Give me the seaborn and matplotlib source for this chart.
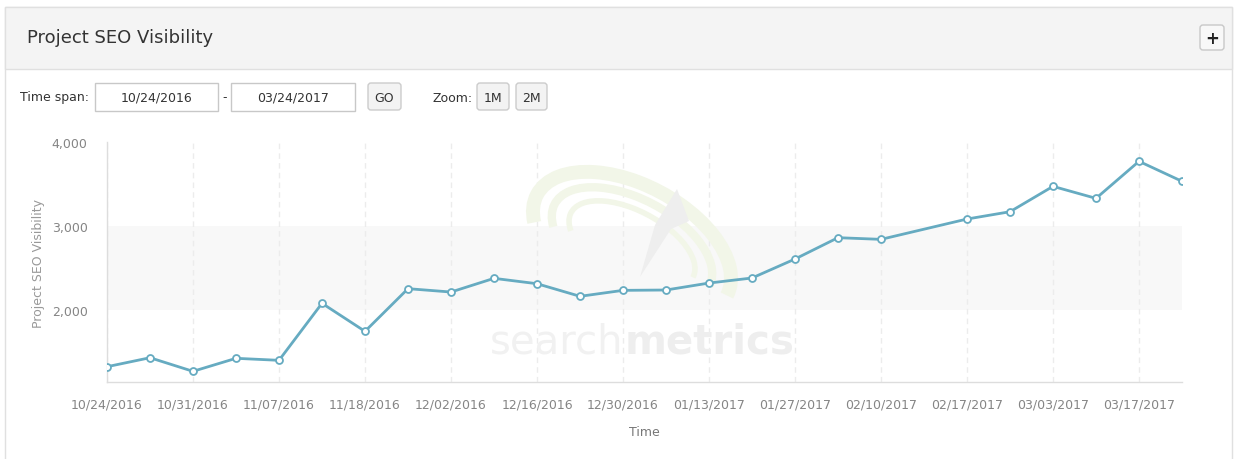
import numpy as np
import pandas as pd
import matplotlib
matplotlib.use('Agg')
import matplotlib.pyplot as plt
import matplotlib.transforms as mtransforms
from matplotlib.patches import FancyBboxPatch, Rectangle, Arc, Polygon
from matplotlib.ticker import FuncFormatter
import seaborn as sns

slot = [0, 1, 2, 3, 4, 5, 6, 7, 8, 9, 10, 11, 12, 13, 14, 15, 16, 17, 18,
        20, 21, 22, 23, 24, 25]
visibility = [1325, 1432, 1270, 1425, 1401, 2080, 1746, 2254, 2214, 2377,
              2313, 2163, 2234, 2238, 2321, 2381, 2607, 2861, 2841, 3083,
              3170, 3472, 3329, 3770, 3532]
tick_slots = [0, 2, 4, 6, 8, 10, 12, 14, 16, 18, 20, 22, 24]
tick_labels = ['10/24/2016', '10/31/2016', '11/07/2016', '11/18/2016',
               '12/02/2016', '12/16/2016', '12/30/2016', '01/13/2017',
               '01/27/2017', '02/10/2017', '02/17/2017', '03/03/2017',
               '03/17/2017']
y_ticks = [2000, 3000, 4000]
band = (2000, 3000)

df = pd.DataFrame({'slot': slot, 'visibility': visibility})

sns.set_style('white')
plt.rcParams['font.family'] = ['DejaVu Sans']

W, H = 1234, 460
fig = plt.figure(figsize=(W / 100, H / 100), dpi=100)
fig.patch.set_facecolor('white')

# pixel transform: (x, y) measured from the top-left corner of the image
px = mtransforms.Affine2D().scale(1, -1).translate(0, H).scale(1 / W, 1 / H) + fig.transFigure

# widget frame and header (kept below the axes)
fig.patches.append(Rectangle((5, 8), 1227, 470, transform=px, facecolor='white',
                             edgecolor='#e0e0e0', linewidth=1, zorder=-10))
fig.patches.append(Rectangle((5, 8), 1227, 62, transform=px, facecolor='#f4f4f4',
                             edgecolor='#e0e0e0', linewidth=1, zorder=-9))
fig.text(27 / W, 1 - 38 / H, 'Project SEO Visibility', fontsize=13, color='#333333',
         va='center', ha='left')
fig.patches.append(FancyBboxPatch((1200, 26), 24, 25, transform=px,
                                  boxstyle='round,pad=0,rounding_size=3',
                                  facecolor='#f8f8f8', edgecolor='#c8c8c8', linewidth=1,
                                  zorder=-8))
fig.text(1212 / W, 1 - 38.5 / H, '+', fontsize=12, fontweight='bold', color='#222222',
         ha='center', va='center')

# time span controls
fig.text(20 / W, 1 - 98 / H, 'Time span:', fontsize=9, color='#333333', va='center')
for x0, x1, txt in [(95, 218, '10/24/2016'), (231, 355, '03/24/2017')]:
    fig.patches.append(Rectangle((x0, 84), x1 - x0, 28, transform=px, facecolor='white',
                                 edgecolor='#c8c8c8', linewidth=1, zorder=-8))
    fig.text((x0 + x1) / 2 / W, 1 - 98 / H, txt, fontsize=9, color='#333333',
             ha='center', va='center')
fig.text(224.5 / W, 1 - 98 / H, '-', fontsize=9, color='#333333', ha='center', va='center')
fig.text(432 / W, 1 - 98 / H, 'Zoom:', fontsize=9, color='#333333', va='center')
for x0, x1, txt in [(368, 401, 'GO'), (477, 509, '1M'), (516, 547, '2M')]:
    fig.patches.append(FancyBboxPatch((x0, 84), x1 - x0, 27, transform=px,
                                      boxstyle='round,pad=0,rounding_size=3',
                                      facecolor='#f3f3f3', edgecolor='#cccccc', linewidth=1,
                                      zorder=-8))
    fig.text((x0 + x1) / 2 / W, 1 - 98 / H, txt, fontsize=9, color='#333333',
             ha='center', va='center')

# chart
ax = fig.add_axes([107 / W, 1 - 383 / H, (1182 - 107) / W, (383 - 143) / H])
ax.set_facecolor('white')
ax.axhspan(band[0], band[1], color='#f8f8f8', zorder=0, linewidth=0)

# faint watermark
ax.text(490, 354, 'search', transform=px, fontsize=29, color='#f1f1f1',
        ha='left', va='baseline', zorder=1)
ax.text(625, 354, 'metrics', transform=px, fontsize=29, color='#eeeeee',
        fontweight='bold', ha='left', va='baseline', zorder=1)
for w, h, lw in [(215, 120, 10), (175, 92, 6), (138, 68, 4)]:
    ax.add_patch(Arc((632, 246), w, h, angle=28, theta1=165, theta2=360, transform=px,
                     color='#f2f6e8', linewidth=lw, zorder=1))
ax.add_patch(Polygon([(677, 190), (689, 222), (671, 230), (640, 278), (655, 226)],
                     closed=True, transform=px, facecolor='#eeeeee', edgecolor='none',
                     zorder=1))

line_color = '#66abc1'
sns.lineplot(data=df, x='slot', y='visibility', ax=ax, color=line_color, linewidth=2,
             marker='o', markersize=5, markerfacecolor='white',
             markeredgecolor=line_color, markeredgewidth=1.3, zorder=3)

ax.set_xlim(0, 25)
ax.set_ylim(1143, 4000)
ax.set_xticks(tick_slots)
ax.set_xticklabels(tick_labels)
ax.set_yticks(y_ticks)
ax.yaxis.set_major_formatter(FuncFormatter(lambda v, p: f'{int(v):,}'))
ax.tick_params(axis='x', length=5, color='#dddddd', labelsize=9, labelcolor='#858585', pad=6)
ax.tick_params(axis='y', length=0, labelsize=9, labelcolor='#858585', pad=14)
ax.grid(axis='x', color='#ececec', linestyle=(0, (4, 3)), linewidth=1, zorder=0.5)
ax.grid(axis='y', visible=False)
for s in ['top', 'right']:
    ax.spines[s].set_visible(False)
for s in ['left', 'bottom']:
    ax.spines[s].set_color('#dddddd')
    ax.spines[s].set_linewidth(1)

ax.set_xlabel('Time', fontsize=9, color='#777777')
ax.set_ylabel('Project SEO Visibility', fontsize=9, color='#999999')
ax.xaxis.set_label_coords(0.5, -0.18)
ax.yaxis.set_label_coords(-0.058, 0.5)

fig.savefig('out.png', dpi=100)
